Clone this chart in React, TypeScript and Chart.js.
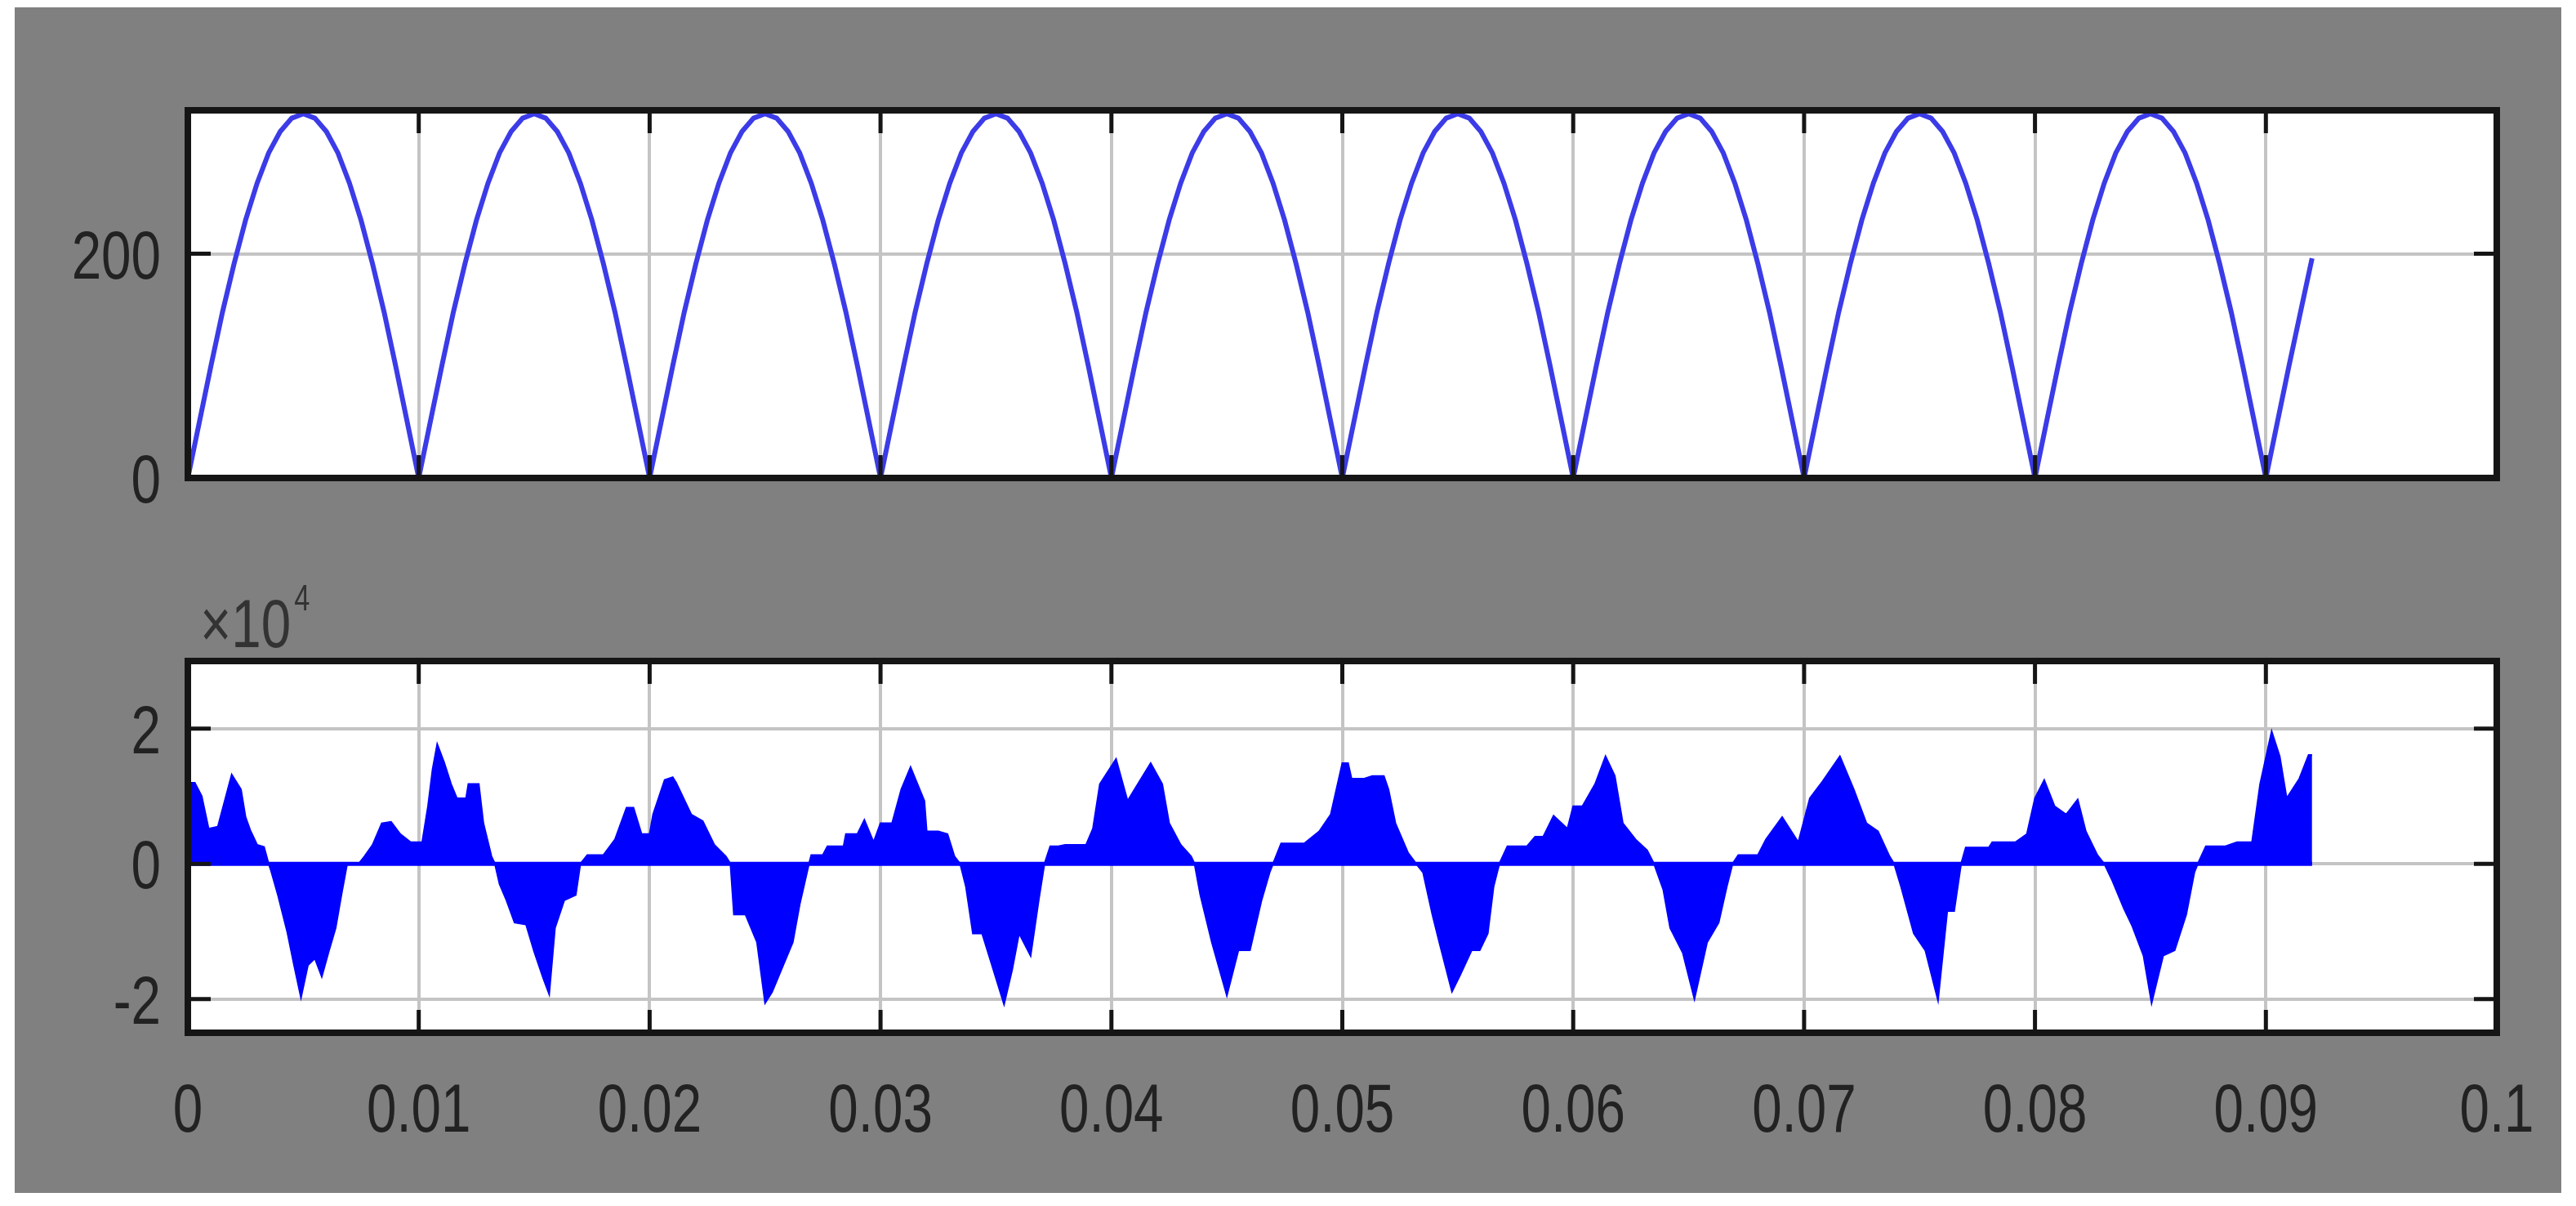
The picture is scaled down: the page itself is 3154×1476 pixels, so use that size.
import { useEffect, useRef } from "react";
import { Chart, registerables } from "chart.js";

Chart.register(...registerables);

// ---------- data ----------
const X_TICKS = [0, 0.01, 0.02, 0.03, 0.04, 0.05, 0.06, 0.07, 0.08, 0.09, 0.1];
const X_TICK_LABELS = ["0", "0.01", "0.02", "0.03", "0.04", "0.05", "0.06", "0.07", "0.08", "0.09", "0.1"];

const VOLT_Y_TICKS = [0, 200];
const VOLT_Y_LABELS = ["0", "200"];

const CURR_Y_TICKS = [-2, 0, 2];
const CURR_Y_LABELS = ["-2", "0", "2"];
const CURR_EXPONENT = "4";

// top trace: rectified voltage, sampled every 0.5 ms from t = 0
const VOLT_SAMPLE_S = 0.0005;
const VOLTAGE = [
  0, 50, 100, 148, 191, 230, 263, 290, 309, 321, 325, 321, 309, 290, 263, 230, 191, 148, 100, 50,
  0, 50, 100, 148, 191, 230, 263, 290, 309, 321, 325, 321, 309, 290, 263, 230, 191, 148, 100, 50,
  0, 50, 100, 148, 191, 230, 263, 290, 309, 321, 325, 321, 309, 290, 263, 230, 191, 148, 100, 50,
  0, 50, 100, 148, 191, 230, 263, 290, 309, 321, 325, 321, 309, 290, 263, 230, 191, 148, 100, 50,
  0, 50, 100, 148, 191, 230, 263, 290, 309, 321, 325, 321, 309, 290, 263, 230, 191, 148, 100, 50,
  0, 50, 100, 148, 191, 230, 263, 290, 309, 321, 325, 321, 309, 290, 263, 230, 191, 148, 100, 50,
  0, 50, 100, 148, 191, 230, 263, 290, 309, 321, 325, 321, 309, 290, 263, 230, 191, 148, 100, 50,
  0, 50, 100, 148, 191, 230, 263, 290, 309, 321, 325, 321, 309, 290, 263, 230, 191, 148, 100, 50,
  0, 50, 100, 148, 191, 230, 263, 290, 309, 321, 325, 321, 309, 290, 263, 230, 191, 148, 100, 50,
  0, 50, 100, 148, 196,
];

// bottom trace: envelope of the current signal (time in ms, value in units of 10^4)
const CURRENT_T_MS = [
  0, 0.3, 0.6, 0.9, 1.3, 1.9, 2.3, 2.5, 2.7, 3.0, 3.3, 3.5,
  3.6, 3.9, 4.3, 4.6, 4.9, 5.2, 5.5, 5.8, 6.1, 6.4, 6.65, 6.9,
  7.4, 7.65, 8.0, 8.4, 8.8, 9.2, 9.65, 10.15, 10.4, 10.6, 10.8, 11.1, 11.4, 11.65, 12.05, 12.15, 12.6, 12.8, 13.15, 13.3,
  13.5, 13.8, 14.15, 14.65, 15.0, 15.4, 15.65, 15.9, 16.3, 16.8, 17.0,
  17.3, 18.0, 18.5, 19.0, 19.3, 19.65, 20.0, 20.15, 20.65, 21.0, 21.15, 21.8, 22.3, 22.8, 23.3, 23.5,
  23.65, 24.15, 24.65, 25.0, 25.3, 25.7, 26.2, 26.5, 26.9,
  27.0, 27.5, 27.7, 28.4, 28.5, 29.0, 29.3, 29.7, 30.0, 30.5, 30.9, 31.3, 31.9, 32.0, 32.5, 32.9, 33.2, 33.45,
  33.7, 34.0, 34.4, 34.7, 35.35, 35.7, 36.0, 36.5, 36.85, 37.1,
  37.35, 37.7, 38.0, 38.9, 39.2, 39.5, 40.2, 40.7, 41.0, 41.7, 42.2, 42.5, 43.0, 43.45, 43.6,
  43.85, 44.35, 45.0, 45.5, 46.0, 46.5, 46.85, 47.0,
  47.35, 48.35, 49.0, 49.5, 50.0, 50.25, 50.4, 50.95, 51.3, 51.8, 52.0, 52.3, 52.85, 53.2,
  53.5, 53.9, 54.2, 54.75, 55.1, 55.6, 55.95, 56.3, 56.55, 56.8,
  57.15, 58.0, 58.35, 58.7, 59.15, 59.75, 60.0, 60.4, 60.95, 61.4, 61.8, 62.15, 62.7, 63.2, 63.5,
  63.9, 64.2, 64.75, 65.25, 65.8, 66.3, 66.65, 66.9,
  67.15, 68.0, 68.35, 69.05, 69.75, 70.25, 70.8, 71.55, 72.15, 72.7, 73.2, 73.7, 73.9,
  74.2, 74.75, 75.25, 75.8, 76.1, 76.2, 76.5, 76.8,
  77.0, 78.0, 78.15, 79.15, 79.65, 80.0, 80.4, 80.85, 81.35, 81.85, 82.2, 82.7, 83.0,
  83.35, 83.85, 84.2, 84.7, 85.05, 85.55, 86.05, 86.55, 86.9, 87.05,
  87.4, 88.25, 88.75, 89.4, 89.75, 90.25, 90.6, 90.9, 91.45, 91.85, 92.0,
];
const CURRENT_X1E4 = [
  1.2, 1.2, 1.0, 0.52, 0.55, 1.32, 1.1, 0.69, 0.5, 0.28, 0.25, 0,
  -0.1, -0.46, -1.0, -1.5, -1.98, -1.5, -1.4, -1.67, -1.3, -0.95, -0.46, 0,
  0, 0.11, 0.28, 0.6, 0.62, 0.44, 0.32, 0.32, 0.85, 1.4, 1.77, 1.5, 1.18, 0.97, 0.97, 1.18, 1.18, 0.6, 0.11, 0,
  -0.3, -0.54, -0.87, -0.9, -1.3, -1.7, -1.93, -0.95, -0.54, -0.46, 0,
  0.13, 0.13, 0.36, 0.83, 0.83, 0.44, 0.44, 0.73, 1.24, 1.28, 1.2, 0.73, 0.63, 0.28, 0.11, 0,
  -0.75, -0.75, -1.16, -2.06, -1.9, -1.57, -1.16, -0.6, 0,
  0.13, 0.13, 0.26, 0.26, 0.44, 0.44, 0.65, 0.32, 0.6, 0.6, 1.1, 1.43, 0.93, 0.48, 0.48, 0.44, 0.11, 0,
  -0.34, -1.03, -1.03, -1.36, -2.08, -1.57, -1.03, -1.36, -0.54, 0,
  0.26, 0.26, 0.28, 0.28, 0.52, 1.18, 1.55, 0.93, 1.1, 1.49, 1.18, 0.6, 0.28, 0.11, 0,
  -0.46, -1.16, -1.95, -1.28, -1.28, -0.54, -0.13, 0,
  0.3, 0.3, 0.48, 0.73, 1.49, 1.49, 1.26, 1.26, 1.3, 1.3, 1.1, 0.6, 0.16, 0,
  -0.13, -0.75, -1.16, -1.89, -1.65, -1.28, -1.28, -1.03, -0.34, 0,
  0.26, 0.26, 0.4, 0.4, 0.71, 0.52, 0.85, 0.85, 1.18, 1.59, 1.3, 0.6, 0.36, 0.2, 0,
  -0.38, -0.95, -1.32, -2.0, -1.16, -0.87, -0.34, 0,
  0.13, 0.13, 0.36, 0.69, 0.32, 0.97, 1.22, 1.59, 1.1, 0.6, 0.48, 0.11, 0,
  -0.34, -1.03, -1.28, -2.02, -1.03, -0.7, -0.7, 0,
  0.24, 0.24, 0.32, 0.32, 0.44, 0.97, 1.24, 0.85, 0.73, 0.95, 0.48, 0.13, 0,
  -0.25, -0.66, -0.91, -1.36, -2.06, -1.36, -1.28, -0.75, -0.13, 0,
  0.26, 0.26, 0.32, 0.32, 1.18, 1.96, 1.59, 0.97, 1.26, 1.61, 1.61,
];

// ---------- styling ----------
const FONT_FAMILY = '"Liberation Sans", Arial, sans-serif';
const FONT_SIZE = 84;
const NARROW = 0.78; // horizontal squeeze of the condensed tick font
const TEXT_COLOR = "#222222";
const GRID_COLOR = "#c4c4c4";
const FRAME_COLOR = "#151515";
const PAGE_W = 3154;
const PAGE_H = 1476;

const whiteAreaPlugin = {
  id: "whiteArea",
  beforeDraw(chart: any) {
    const { ctx, chartArea } = chart;
    ctx.save();
    ctx.fillStyle = "#ffffff";
    ctx.fillRect(chartArea.left, chartArea.top, chartArea.right - chartArea.left, chartArea.bottom - chartArea.top);
    ctx.restore();
  },
};

function narrowText(ctx: any, text: string, x: number, y: number, align: string, size: number) {
  ctx.save();
  ctx.translate(x, y);
  ctx.scale(NARROW, 1);
  ctx.font = `${size}px ${FONT_FAMILY}`;
  ctx.textAlign = align;
  ctx.textBaseline = "alphabetic";
  ctx.fillText(text, 0, 0);
  ctx.restore();
}

const framePlugin = {
  id: "matlabFrame",
  afterDraw(chart: any) {
    const { ctx, chartArea, scales } = chart;
    const { left, right, top, bottom } = chartArea;
    const opts = chart.options.plugins.matlabFrame || {};
    const len = 28;
    ctx.save();
    ctx.strokeStyle = FRAME_COLOR;
    ctx.lineWidth = 5;
    ctx.beginPath();
    for (const t of scales.x.ticks) {
      const px = scales.x.getPixelForValue(t.value);
      ctx.moveTo(px, top);
      ctx.lineTo(px, top + len);
      ctx.moveTo(px, bottom);
      ctx.lineTo(px, bottom - len);
    }
    for (const t of scales.y.ticks) {
      const py = scales.y.getPixelForValue(t.value);
      ctx.moveTo(left, py);
      ctx.lineTo(left + len, py);
      ctx.moveTo(right, py);
      ctx.lineTo(right - len, py);
    }
    ctx.stroke();
    ctx.lineWidth = 8;
    ctx.strokeRect(left, top, right - left, bottom - top);

    ctx.fillStyle = TEXT_COLOR;
    const yLabels: string[] = opts.yLabels || [];
    scales.y.ticks.forEach((t: any, i: number) => {
      const py = scales.y.getPixelForValue(t.value);
      if (yLabels[i] !== undefined) narrowText(ctx, yLabels[i], left - 33, py + 30, "right", FONT_SIZE);
    });
    const xLabels: string[] = opts.xLabels || [];
    scales.x.ticks.forEach((t: any, i: number) => {
      const px = scales.x.getPixelForValue(t.value);
      if (xLabels[i] !== undefined) narrowText(ctx, xLabels[i], px, bottom + 121, "center", FONT_SIZE);
    });

    if (opts.exponent) {
      ctx.fillStyle = "#333333";
      const base = "\u00d710";
      const x0 = left + 15;
      const y0 = top - 17;
      narrowText(ctx, base, x0, y0, "left", FONT_SIZE);
      ctx.font = `${FONT_SIZE}px ${FONT_FAMILY}`;
      const w = ctx.measureText(base).width * NARROW;
      narrowText(ctx, opts.exponent, x0 + w + 4, y0 - 45, "left", 44);
    }
    ctx.restore();
  },
};

function axisX(height: number) {
  return {
    type: "linear" as const,
    min: X_TICKS[0],
    max: X_TICKS[X_TICKS.length - 1],
    afterBuildTicks: (axis: any) => {
      axis.ticks = X_TICKS.map((v) => ({ value: v }));
    },
    afterFit: (axis: any) => {
      axis.height = height;
    },
    grid: { color: GRID_COLOR, lineWidth: 4, drawTicks: false },
    border: { display: false },
    ticks: { display: false },
  };
}

function axisY(min: number, max: number, ticks: number[]) {
  return {
    type: "linear" as const,
    min,
    max,
    afterBuildTicks: (axis: any) => {
      axis.ticks = ticks.map((v) => ({ value: v }));
    },
    afterFit: (axis: any) => {
      axis.width = 230;
    },
    grid: { color: GRID_COLOR, lineWidth: 4, drawTicks: false },
    border: { display: false },
    ticks: { display: false },
  };
}

export default function App() {
  const topRef = useRef<HTMLCanvasElement>(null);
  const botRef = useRef<HTMLCanvasElement>(null);

  useEffect(() => {
    const voltagePts = VOLTAGE.map((v, i) => ({ x: i * VOLT_SAMPLE_S, y: v }));
    const currentPts = CURRENT_T_MS.map((t, i) => ({ x: t / 1000, y: CURRENT_X1E4[i] }));
    const endT = CURRENT_T_MS[CURRENT_T_MS.length - 1] / 1000;

    const top = new Chart(topRef.current!, {
      type: "line",
      data: {
        datasets: [
          {
            data: voltagePts,
            borderColor: "#3b3be8",
            borderWidth: 6,
            pointRadius: 0,
            tension: 0,
            fill: false,
          },
        ],
      },
      options: {
        animation: false,
        responsive: false,
        devicePixelRatio: 1,
        layout: { padding: { top: 135, right: 97, left: 0, bottom: 0 } },
        plugins: {
          legend: { display: false },
          tooltip: { enabled: false },
          matlabFrame: { yLabels: VOLT_Y_LABELS },
        },
        scales: {
          x: axisX(115),
          y: axisY(0, 328, VOLT_Y_TICKS),
        },
      } as any,
      plugins: [whiteAreaPlugin, framePlugin],
    });

    const bot = new Chart(botRef.current!, {
      type: "line",
      data: {
        datasets: [
          {
            data: currentPts,
            borderColor: "#0000ff",
            backgroundColor: "#0000ff",
            borderWidth: 2,
            pointRadius: 0,
            tension: 0,
            fill: "origin",
          },
          {
            data: [
              { x: 0, y: 0 },
              { x: endT, y: 0 },
            ],
            borderColor: "#0000ff",
            borderWidth: 5,
            pointRadius: 0,
            fill: false,
          },
        ],
      },
      options: {
        animation: false,
        responsive: false,
        devicePixelRatio: 1,
        layout: { padding: { top: 109, right: 97, left: 0, bottom: 0 } },
        plugins: {
          legend: { display: false },
          tooltip: { enabled: false },
          matlabFrame: { exponent: CURR_EXPONENT, yLabels: CURR_Y_LABELS, xLabels: X_TICK_LABELS },
        },
        scales: {
          x: axisX(212),
          y: axisY(-2.5, 3, CURR_Y_TICKS),
        },
      } as any,
      plugins: [whiteAreaPlugin, framePlugin],
    });

    return () => {
      top.destroy();
      bot.destroy();
    };
  }, []);

  return (
    <div
      style={{
        position: "fixed",
        left: 0,
        top: 0,
        width: PAGE_W,
        height: PAGE_H,
        background: "#ffffff",
        overflow: "hidden",
      }}
    >
      <div
        style={{
          position: "absolute",
          left: 18,
          top: 9,
          width: 3118,
          height: 1451,
          background: "#808080",
        }}
      />
      <canvas
        ref={topRef}
        width={PAGE_W}
        height={700}
        style={{ position: "absolute", left: 0, top: 0, width: PAGE_W, height: 700 }}
      />
      <canvas
        ref={botRef}
        width={PAGE_W}
        height={776}
        style={{ position: "absolute", left: 0, top: 700, width: PAGE_W, height: 776 }}
      />
    </div>
  );
}
